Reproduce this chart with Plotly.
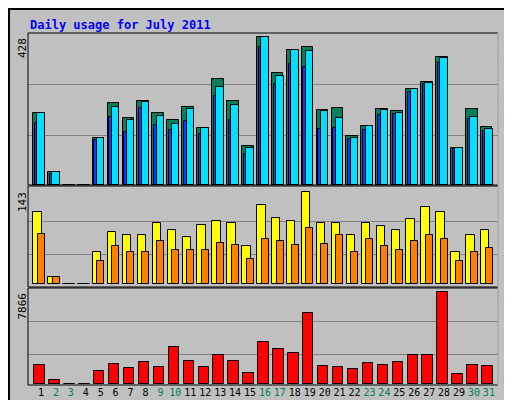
import plotly.graph_objects as go

days = list(range(1, 32))
weekend = [2, 3, 9, 10, 16, 17, 23, 24, 30, 31]

hits = [207, 37, 0, 0, 137, 236, 193, 242, 207, 187, 227, 166, 306, 242, 114, 428,
        323, 390, 399, 216, 222, 141, 172, 219, 213, 278, 297, 370, 108, 219, 169]
pages = [207, 37, 0, 0, 137, 225, 187, 239, 201, 178, 219, 166, 283, 233, 106, 428,
         315, 390, 387, 213, 193, 137, 172, 216, 207, 278, 294, 367, 106, 198, 161]
files = [179, 31, 0, 0, 129, 197, 152, 223, 173, 159, 184, 147, 259, 188, 89, 399,
         291, 349, 341, 162, 165, 133, 159, 202, 205, 268, 291, 352, 103, 190, 155]
visits = [112, 12, 0, 0, 51, 81, 76, 76, 96, 84, 73, 92, 98, 96, 59, 123,
          103, 98, 143, 95, 96, 76, 95, 90, 85, 101, 120, 113, 51, 76, 85]
sites = [78, 12, 0, 0, 37, 59, 51, 50, 68, 54, 54, 54, 65, 61, 40, 71,
         68, 61, 87, 62, 76, 51, 70, 59, 54, 68, 76, 71, 36, 51, 57]
kbytes = [1579, 287, 0, 0, 1062, 1665, 1320, 1837, 1407, 3129, 1923, 1407, 2440, 1923, 890, 3560,
          2957, 2612, 6057, 1493, 1407, 1234, 1751, 1579, 1837, 2440, 2440, 7866, 804, 1579, 1493]

W, H = 512, 400
def py(px):
    return 1 - px / H

X0, X1 = 20 / W, 490 / W
line = dict(color="black", width=1)
fig = go.Figure()

def bar(y, color, off, wid, ax):
    fig.add_trace(go.Bar(x=days, y=y, marker=dict(color=color, line=line),
                         offset=off, width=wid, xaxis="x", yaxis=ax, showlegend=False))

bar(hits, "#00805C", -0.54, 0.78, "y")
bar(pages, "#00E0FF", -0.25, 0.50, "y")
bar(files, "#0040FF", -0.42, 0.17, "y")
bar(visits, "#FFFF00", -0.52, 0.56, "y2")
bar(sites, "#FF8000", -0.22, 0.47, "y2")
bar(kbytes, "#FF0000", -0.45, 0.70, "y3")

ticktext = ["<span style='color:%s'>%d</span>" % ("#00805C" if d in weekend else "black", d) for d in days]
grid = dict(showgrid=True, gridcolor="#808080", gridwidth=1, showticklabels=False,
            zeroline=False, showline=False, ticks="")
mono = "DejaVu Sans Mono"

fig.update_layout(
    width=W, height=H, margin=dict(l=0, r=0, t=0, b=0),
    paper_bgcolor="#C0C0C0", plot_bgcolor="#C0C0C0",
    barmode="overlay", bargap=0,
    font=dict(family=mono, size=11, color="black"),
    xaxis=dict(domain=[X0, X1], range=[0.13, 31.61], anchor="y3",
               tickvals=days, ticktext=ticktext, ticks="", showgrid=False, tickangle=0,
               tickfont=dict(family=mono, size=10)),
    yaxis=dict(domain=[py(177), py(25)], range=[0, 440], tickvals=[143, 291], **grid),
    yaxis2=dict(domain=[py(279), py(180)], range=[-4, 149.7], tickvals=[46.6, 98], anchor="x", **grid),
    yaxis3=dict(domain=[py(377), py(281)], range=[-112, 8150], tickvals=[2530, 5370], anchor="x", **grid),
)

shapes = [dict(type="rect", xref="paper", yref="paper", x0=0.002, x1=0.998, y0=0.0025, y1=0.9975,
               line=dict(color="black", width=2))]
for top, bot in [(25, 177), (178, 279), (280, 377)]:
    shapes.append(dict(type="rect", xref="paper", yref="paper", x0=X0, x1=X1,
                       y0=py(bot), y1=py(top), line=dict(color="black", width=1)))
    shapes.append(dict(type="line", xref="paper", yref="paper", x0=X1, x1=X1,
                       y0=py(bot), y1=py(top), line=dict(color="white", width=1)))
fig.update_layout(shapes=shapes)

ann = [dict(text="<b>Daily usage for July 2011</b>", x=20 / W, y=py(8), xanchor="left", yanchor="top",
            font=dict(color="#0000FF", size=12, family=mono))]
for val, ypx in [("428", 28), ("143", 182), ("7866", 283)]:
    ann.append(dict(text=val, textangle=-90, x=14 / W, y=py(ypx), xanchor="center", yanchor="top",
                    font=dict(size=11, family=mono)))
ann.append(dict(text="<span style='color:#00C0C0'>Pages</span> / <span style='color:#0040FF'>Files</span> / "
                     "<span style='color:#00805C'>Hits</span>",
                textangle=-90, x=500 / W, y=py(27), xanchor="center", yanchor="top", font=dict(size=11, family=mono)))
ann.append(dict(text="<span style='color:#FF8000'>Sites</span> / <span style='color:#FFFF00'>Visits</span>",
                textangle=-90, x=500 / W, y=py(198), xanchor="center", yanchor="top", font=dict(size=11, family=mono)))
ann.append(dict(text="<span style='color:#FF0000'>KBytes</span>",
                textangle=-90, x=500 / W, y=py(338), xanchor="center", yanchor="top", font=dict(size=11, family=mono)))
for a in ann:
    a.update(xref="paper", yref="paper", showarrow=False)
fig.update_layout(annotations=ann)

fig.write_html("out.html")
